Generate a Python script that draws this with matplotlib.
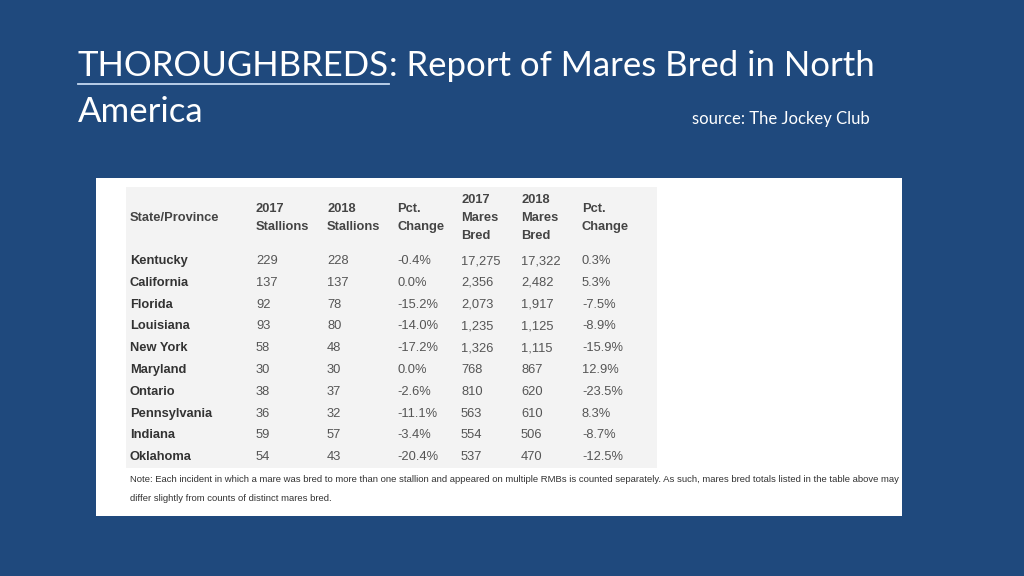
import matplotlib.pyplot as plt
from matplotlib.patches import Rectangle

# table data
states = ["Kentucky", "California", "Florida", "Louisiana", "New York",
          "Maryland", "Ontario", "Pennsylvania", "Indiana", "Oklahoma"]
stallions_2017 = [229, 137, 92, 93, 58, 30, 38, 36, 59, 54]
stallions_2018 = [228, 137, 78, 80, 48, 30, 37, 32, 57, 43]
stallions_pct = [-0.4, 0.0, -15.2, -14.0, -17.2, 0.0, -2.6, -11.1, -3.4, -20.4]
mares_2017 = [17275, 2356, 2073, 1235, 1326, 768, 810, 563, 554, 537]
mares_2018 = [17322, 2482, 1917, 1125, 1115, 867, 620, 610, 506, 470]
mares_pct = [0.3, 5.3, -7.5, -8.9, -15.9, 12.9, -23.5, 8.3, -8.7, -12.5]
headers = ["State/Province", "2017\nStallions", "2018\nStallions", "Pct.\nChange",
           "2017\nMares\nBred", "2018\nMares\nBred", "Pct.\nChange"]
note = ("Note: Each incident in which a mare was bred to more than one stallion and appeared on "
        "multiple RMBs is counted separately. As such, mares bred totals listed in the table above may\n"
        "differ slightly from counts of distinct mares bred.")

bg = "#1f497d"
fig = plt.figure(figsize=(10.24, 5.76), dpi=100, facecolor=bg)
ax = fig.add_axes([0, 0, 1, 1])
ax.set_xlim(0, 1024)
ax.set_ylim(576, 0)
ax.axis("off")

# title
title_font = "Lato"
t1 = ax.text(78, 66, "THOROUGHBREDS", color="white", fontsize=25, family=title_font, va="center")
fig.canvas.draw()
bb = t1.get_window_extent()
x_end = 78 + bb.width
ax.plot([78, x_end], [84, 84], color="#c5d9f1", lw=1.3)
ax.text(x_end, 66, ": Report of Mares Bred in North", color="white", fontsize=25,
        family=title_font, va="center")
ax.text(78, 112, "America", color="white", fontsize=25, family=title_font, va="center")
ax.text(692, 119, "source: The Jockey Club", color="white", fontsize=12,
        family=title_font, va="center")

# image panel
ax.add_patch(Rectangle((96, 178), 806, 338, facecolor="white", edgecolor="none"))
ax.add_patch(Rectangle((126, 187), 531, 281, facecolor="#f3f3f3", edgecolor="none"))

col_x = [130, 256, 327, 397, 461, 521, 582]
for x, h in zip(col_x, headers):
    ax.text(x, 218, h, fontsize=9.3, family="Liberation Sans", fontweight="bold",
            color="#444444", va="center", ha="left", linespacing=1.7)

row_y0, row_dy = 264, 21.8
for i, s in enumerate(states):
    y = row_y0 + i * row_dy
    cells = [s, str(stallions_2017[i]), str(stallions_2018[i]), f"{stallions_pct[i]:.1f}%",
             f"{mares_2017[i]:,}", f"{mares_2018[i]:,}", f"{mares_pct[i]:.1f}%"]
    for j, (x, c) in enumerate(zip(col_x, cells)):
        ax.text(x, y, c, fontsize=9.3, family="Liberation Sans",
                fontweight="bold" if j == 0 else "normal",
                color="#333333" if j == 0 else "#555555", va="baseline", ha="left")

ax.text(130, 489, note, fontsize=6.8, family="Liberation Sans", color="#333333",
        va="center", ha="left", linespacing=2.55)

fig.savefig("out.png", dpi=100, facecolor=bg)
